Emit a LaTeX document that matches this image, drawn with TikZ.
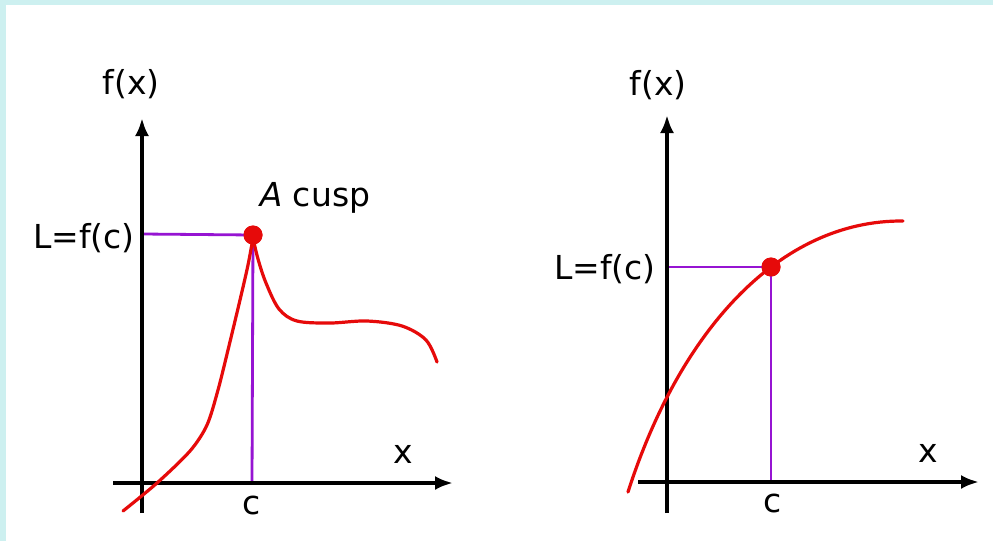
\documentclass[tikz,border=0pt]{standalone}
\usepackage{fontspec}
\setmainfont{DejaVu Sans}
\usetikzlibrary{arrows.meta}
\definecolor{bandcyan}{RGB}{205,240,240}
\definecolor{lineviolet}{RGB}{150,20,210}
\definecolor{curvered}{RGB}{230,10,10}
\begin{document}
\begin{tikzpicture}[x=1pt,y=-1pt,
  axis/.style={line width=3.8pt,black,-{Latex[length=18pt,width=14pt]}},
  guide/.style={line width=2.8pt,lineviolet},
  curve/.style={line width=3.2pt,curvered,line cap=round},
  dot/.style={circle,fill=curvered,inner sep=0pt,minimum size=19pt},
  lbl/.style={font=\fontsize{33}{36}\selectfont,inner sep=0pt}]
\useasboundingbox (0,0) rectangle (993,541);
\fill[white] (0,0) rectangle (993,541);
\fill[bandcyan] (0,0) rectangle (993,5);
\fill[bandcyan] (0,0) rectangle (6,541);
% ---------- left panel ----------
\coordinate (ly0) at (142,513);
\coordinate (ly1) at (142,118);
\coordinate (lx0) at (113,483);
\coordinate (lx1) at (453,483);
\coordinate (lL) at (142,234);
\coordinate (lc) at (252,483);
\node[dot] (lp) at (253,235) {};
\draw[guide] (lL) -- (lp.center);
\draw[guide] (lp.center) -- (lc);
\draw[axis] (ly0) -- (ly1);
\draw[axis] (lx0) -- (lx1);
\draw[curve] plot[smooth,tension=0.5] coordinates {(123,511) (157,483) (190,451) (207,425) (218,390) (228,350) (240,300) (248,265) (253,238)};
\draw[curve] plot[smooth,tension=0.55] coordinates {(253,238) (258,259) (266,283) (279,309) (297,321) (330,323) (367,321) (402,326) (426,340) (437,362)};
\node[dot] at (253,235) {};
\node[lbl] (lfx) at (131,84) {f(x)};
\node[lbl] (lLf) at (84,238) {L=f(c)};
\node[lbl] (lcusp) at (315,198) {\textit{A} cusp};
\node[lbl] (lxl) at (403,454) {x};
\node[lbl] (lcl) at (252,505) {c};
% ---------- right panel ----------
\coordinate (ry0) at (667,513);
\coordinate (ry1) at (667,115);
\coordinate (rx0) at (638,482);
\coordinate (rx1) at (979,482);
\coordinate (rL) at (667,267);
\coordinate (rc) at (771,482);
\node[dot] (rp) at (771,267) {};
\draw[guide] (rL) -- (rp.center);
\draw[guide] (rp.center) -- (rc);
\draw[axis] (ry0) -- (ry1);
\draw[axis] (rx0) -- (rx1);
\draw[curve] (628,492) .. controls (680,330) and (780,220) .. (903,221);
\node[dot] at (771,267) {};
\node[lbl] (rfx) at (658,85) {f(x)};
\node[lbl] (rLf) at (605,269) {L=f(c)};
\node[lbl] (rxl) at (928,453) {x};
\node[lbl] (rcl) at (773,503) {c};
\end{tikzpicture}
\end{document}
